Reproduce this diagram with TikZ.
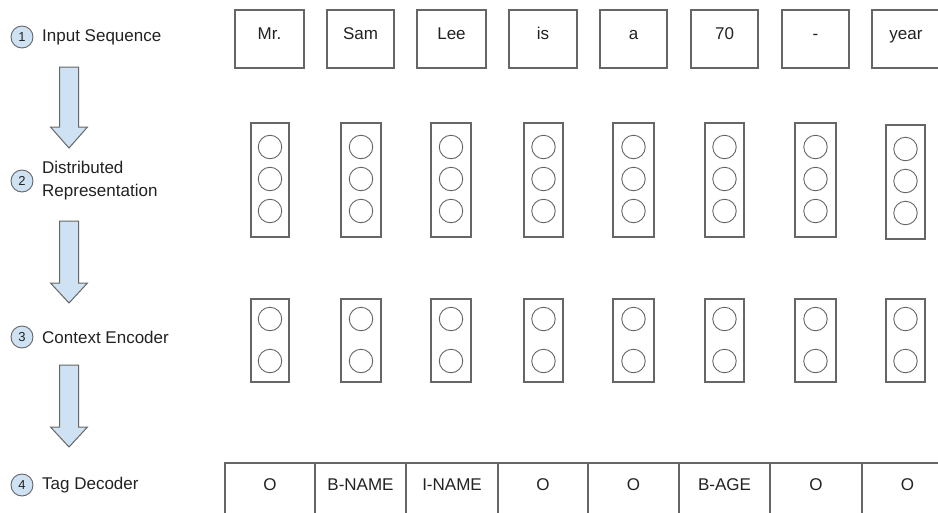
\documentclass[tikz,border=0pt]{standalone}
\usepackage{fontspec}
\setmainfont{Liberation Sans}
\definecolor{lightblu}{HTML}{CFE2F3}
\definecolor{edge}{HTML}{666666}
\definecolor{ink}{HTML}{222222}
\begin{document}
\begin{tikzpicture}[x=1pt,y=-1pt,
  txt/.style={font=\fontsize{17}{20}\selectfont, text=ink, inner sep=0pt, anchor=base},
  lbl/.style={font=\fontsize{17}{23}\selectfont, text=ink, inner sep=0pt, anchor=west, align=left},
  num/.style={circle, draw=edge, line width=0.9pt, fill=lightblu, minimum size=22pt, inner sep=0pt, font=\fontsize{13}{13}\selectfont, text=ink},
  tokbox/.style={draw=edge, line width=1.1pt, fill=none},
  unit/.style={circle, draw=edge, line width=0.9pt, minimum size=23.5pt, inner sep=0pt},
  downarrow/.style={draw=edge, line width=1pt, fill=lightblu},
  tagcell/.style={draw=edge, line width=1.4pt}]
\useasboundingbox (0,0) rectangle (938,512);
\fill[white] (0,0) rectangle (938,512);

% left column labels
\node[num] (n1) at (22,37) {1};
\node[lbl] (l1) at (42,37) {Input Sequence};
\node[num] (n2) at (22,181) {2};
\node[lbl] (l2) at (42,181) {Distributed\\Representation};
\node[num] (n3) at (22,337) {3};
\node[lbl] (l3) at (42,337) {Context Encoder};
\node[num] (n4) at (22,485) {4};
\node[lbl] (l4) at (42,485) {Tag Decoder};

% block arrows
\foreach \t/\b/\p in {67/127/148, 221/283/303, 365/427/447}{
  \draw[downarrow] (59.5,\t) -- (78.5,\t) -- (78.5,\b) -- (87.5,\b) -- (69,\p) -- (50.5,\b) -- (59.5,\b) -- cycle;
}

% input tokens
\foreach \name/\l/\r/\w in {t1/235/304/Mr., t2/327/394/Sam, t3/417/486/Lee, t4/509/577/is, t5/600/667/a, t6/691/758/70, t7/782/849/-, t8/872/940/year}{
  \draw[tokbox] (\l,10) rectangle (\r,68);
  \node[txt] (\name) at ({(\l+\r)/2},39) {\w};
}

% distributed representation
\foreach \name/\l/\r/\dy in {d1/251/289/0, d2/341/381/0, d3/431/471/0, d4/524/563/0, d5/613/654/0, d6/705/744/0, d7/795/836/0, d8/886/925/2}{
  \draw[tokbox] (\l,123+\dy) rectangle (\r,237+\dy);
  \node[unit] (\name a) at ({(\l+\r)/2},147+\dy) {};
  \node[unit] (\name b) at ({(\l+\r)/2},179+\dy) {};
  \node[unit] (\name c) at ({(\l+\r)/2},211+\dy) {};
}

% context encoder
\foreach \name/\l/\r in {c1/251/289, c2/341/381, c3/431/471, c4/524/563, c5/613/654, c6/705/744, c7/795/836, c8/886/925}{
  \draw[tokbox] (\l,299) rectangle (\r,382);
  \node[unit] (\name a) at ({(\l+\r)/2},319) {};
  \node[unit] (\name b) at ({(\l+\r)/2},361) {};
}

% tag decoder
\foreach \name/\l/\r/\w in {g1/225/315/O, g2/315/406/B-NAME, g3/406/498/I-NAME, g4/498/588/O, g5/588/679/O, g6/679/770/B-AGE, g7/770/862/O, g8/862/953/O}{
  \draw[tagcell] (\l,463) rectangle (\r,524);
  \node[txt] (\name) at ({(\l+\r)/2},490) {\w};
}
\end{tikzpicture}
\end{document}
